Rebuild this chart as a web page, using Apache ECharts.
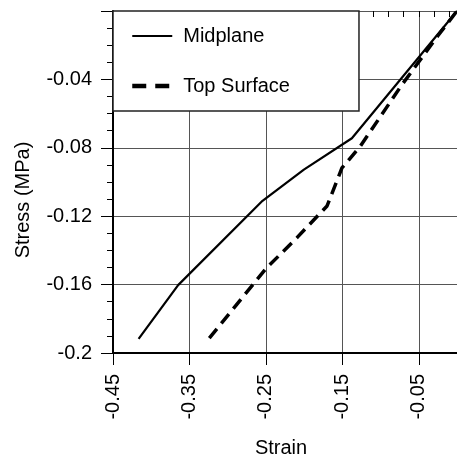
<!DOCTYPE html>
<html>
<head>
<meta charset="utf-8">
<script src="https://cdn.jsdelivr.net/npm/echarts@6/dist/echarts.min.js"></script>
<style>
html,body{margin:0;padding:0;background:#fff;}
#chart{width:457px;height:463px;}
</style>
</head>
<body>
<div id="chart"></div>
<script>
var seriesNames = ['Midplane', 'Top Surface'];
var midStrain = [-0.4165, -0.3648, -0.2544, -0.2003, -0.1375, 0];
var midStress = [-0.1917, -0.1603, -0.111, -0.0928, -0.0744, 0];
var topStrain = [-0.324, -0.25, -0.209, -0.170, -0.1505, -0.1266, -0.0726, -0.025, 0];
var topStress = [-0.1913, -0.1507, -0.1324, -0.114, -0.0918, -0.0792, -0.0435, -0.0145, 0];
var xMajorTicks = [-0.45, -0.35, -0.25, -0.15, -0.05];
var xMinorTicks = [-0.45, -0.43, -0.41, -0.39, -0.37, -0.35, -0.33, -0.31, -0.29, -0.27, -0.25, -0.23, -0.21, -0.19, -0.17, -0.15, -0.13, -0.11, -0.09, -0.07, -0.05, -0.03, -0.01];
var yTickLabels = [-0.2, -0.16, -0.12, -0.08, -0.04];

function pairs(xs, ys) {
  return xs.map(function (x, i) { return [x, ys[i]]; });
}

var FONT = 'Liberation Sans';
var chart = echarts.init(document.getElementById('chart'), null, {renderer: 'canvas'});
chart.setOption({
  animation: false,
  backgroundColor: '#fff',
  grid: {left: 113, right: -3, top: 11, bottom: 106, containLabel: false},
  legend: {
    data: [
      {name: seriesNames[0], lineStyle: {width: 2, type: 'solid'}},
      {name: seriesNames[1], lineStyle: {width: 4.5, type: [14, 9]}}
    ],
    orient: 'vertical',
    left: 113,
    top: 11,
    itemWidth: 40,
    itemHeight: 20,
    itemGap: 30,
    padding: [15, 69, 15, 17],
    borderColor: '#222',
    borderWidth: 1.5,
    backgroundColor: '#fff',
    borderRadius: 0,
    itemStyle: {opacity: 0},
    textStyle: {fontSize: 20, color: '#000', fontFamily: FONT, lineHeight: 20, padding: [0, 0, 0, 6]}
  },
  xAxis: [{
    type: 'value',
    min: -0.45,
    max: 0,
    position: 'bottom',
    name: 'Strain',
    nameLocation: 'middle',
    nameGap: 85,
    nameTextStyle: {fontSize: 20, color: '#000', fontFamily: FONT, padding: [0, 8, 0, 0]},
    axisLine: {show: true, onZero: false, lineStyle: {color: '#000', width: 2}},
    axisTick: {show: true, customValues: xMajorTicks, length: 12, lineStyle: {color: '#000', width: 1}},
    axisLabel: {show: true, customValues: xMajorTicks, rotate: 90, margin: 21, fontSize: 20, color: '#000', fontFamily: FONT},
    splitLine: {show: true, lineStyle: {color: '#555', width: 1}},
    minorTick: {show: false}
  }, {
    type: 'value',
    min: -0.45,
    max: 0,
    position: 'bottom',
    axisLine: {show: false},
    axisTick: {show: true, customValues: xMinorTicks, length: 6, lineStyle: {color: '#000', width: 1}},
    axisLabel: {show: false},
    splitLine: {show: false}
  }],
  yAxis: {
    type: 'value',
    min: -0.2,
    max: 0,
    interval: 0.04,
    name: 'Stress (MPa)',
    nameLocation: 'middle',
    nameGap: 80,
    nameTextStyle: {fontSize: 20, color: '#000', fontFamily: FONT, padding: [0, 36, 0, 0]},
    axisLine: {show: true, onZero: false, lineStyle: {color: '#000', width: 2}},
    axisTick: {show: true, length: 12, lineStyle: {color: '#000', width: 1}},
    minorTick: {show: true, splitNumber: 4, length: 6, lineStyle: {color: '#000', width: 1}},
    axisLabel: {show: true, customValues: yTickLabels, margin: 21, fontSize: 20, color: '#000', fontFamily: FONT},
    splitLine: {show: true, lineStyle: {color: '#555', width: 1}},
    minorSplitLine: {show: false}
  },
  series: [{
    name: seriesNames[0],
    type: 'line',
    xAxisIndex: 0,
    data: pairs(midStrain, midStress),
    symbol: 'none',
    showSymbol: false,
    color: '#000',
    lineStyle: {color: '#000', width: 2.2, type: 'solid'},
    z: 3
  }, {
    name: seriesNames[1],
    type: 'line',
    xAxisIndex: 0,
    data: pairs(topStrain, topStress),
    symbol: 'none',
    showSymbol: false,
    color: '#000',
    lineStyle: {color: '#000', width: 3.5, type: [12, 7]},
    z: 3
  }]
});
</script>
</body>
</html>
